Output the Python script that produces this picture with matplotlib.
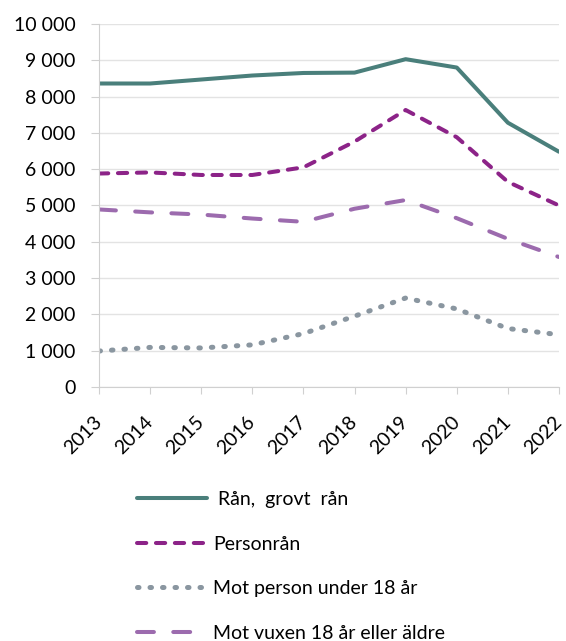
import matplotlib
matplotlib.use("Agg")
import matplotlib.pyplot as plt
from matplotlib.ticker import FuncFormatter

plt.rcParams['font.family'] = ['Lato', 'DejaVu Sans']

years = [2013, 2014, 2015, 2016, 2017, 2018, 2019, 2020, 2021, 2022]
ran_grovt = [8360, 8360, 8470, 8580, 8650, 8660, 9030, 8800, 7280, 6480]
personran = [5880, 5910, 5840, 5840, 6050, 6760, 7630, 6880, 5650, 5000]
under18 = [990, 1090, 1075, 1160, 1470, 1950, 2450, 2150, 1610, 1440]
vuxen = [4890, 4810, 4750, 4640, 4550, 4910, 5150, 4650, 4080, 3580]

labels = [' Rån,  grovt  rån', 'Personrån', 'Mot person under 18 år', 'Mot vuxen 18 år eller äldre']

fig = plt.figure(figsize=(5.66, 6.41), dpi=100)
ax = fig.add_axes([0.1749, 0.3963, 0.8127, 0.5663])

l1, = ax.plot(years, ran_grovt, color='#4A7F7B', lw=2.9, solid_capstyle='round', solid_joinstyle='round')
l2, = ax.plot(years, personran, color='#8C2388', lw=2.9, linestyle=(0, (2.3, 2.4)), dash_capstyle='round')
l3, = ax.plot(years, under18, color='#8A96A0', lw=3.6, linestyle=(0, (0.3, 2.2)), dash_capstyle='round')
l4, = ax.plot(years, vuxen, color='#9C6BAE', lw=2.9, linestyle=(0, (4.2, 4.8)), dash_capstyle='round')

ax.set_xlim(2013, 2022)
ax.set_ylim(0, 10000)
ax.set_yticks(range(0, 10001, 1000))
ax.yaxis.set_major_formatter(FuncFormatter(lambda v, p: f"{int(v):,}".replace(",", " ")))
ax.set_xticks(years)
ax.set_xticklabels([str(y) for y in years], rotation=45, ha='right', va='center',
                   rotation_mode='anchor')
for t in ax.get_xticklabels():
    t.set_x(t.get_position()[0])
ax.grid(axis='y', color='#E3E3E3', lw=1.0)
ax.set_axisbelow(True)
for s in ['top', 'right']:
    ax.spines[s].set_visible(False)
ax.spines['left'].set_color('#D0D0D0')
ax.spines['bottom'].set_color('#D0D0D0')
ax.tick_params(axis='y', length=5.8, color='#D0D0D0', labelsize=14, pad=11)
ax.tick_params(axis='x', length=5, color='#D0D0D0', labelsize=14, pad=18)

leg = fig.legend([l1, l2, l3, l4], labels, loc='upper left', bbox_to_anchor=(0.242, 0.234),
                 frameon=False, fontsize=14, handlelength=3.6, labelspacing=1.42,
                 handletextpad=0.31, borderpad=0, borderaxespad=0)

fig.savefig('out.png', dpi=100)
